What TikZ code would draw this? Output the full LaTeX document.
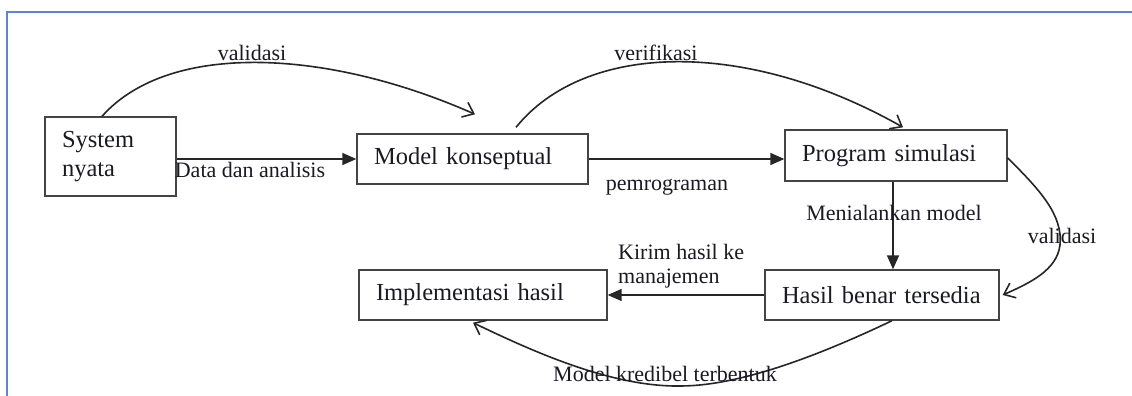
\documentclass[tikz,border=0pt]{standalone}
\usepackage{fontspec}
\setmainfont{Liberation Serif}
\usetikzlibrary{arrows.meta}
\definecolor{framec}{HTML}{5A86D6}
\definecolor{linec}{HTML}{262626}
\definecolor{boxc}{HTML}{444444}
\definecolor{txt}{HTML}{1A1A24}
\begin{document}
\begin{tikzpicture}[x=1pt,y=-1pt,
  box/.style={draw=boxc, line width=1.4pt, rectangle, inner xsep=17pt, inner ysep=0pt,
    align=left, font=\fontsize{24.5}{29}\selectfont, text=txt},
  lbl/.style={font=\fontsize{22}{24}\selectfont, text=txt, inner sep=0pt, anchor=base},
  arr/.style={draw=linec, line width=1.7pt, -{Triangle[length=14pt,width=12pt]}},
  carr/.style={draw=linec, line width=1.6pt, -{Straight Barb[length=10pt,width=16pt]}}]
\useasboundingbox (0,0) rectangle (1132,396);
\fill[white] (0,0) rectangle (1132,396);
% frame
\draw[framec, line width=1.8pt] (7,396) -- (7,12) -- (1132,12);
% boxes
\node[box, text width=97pt, minimum height=79pt] (sys) at (110.5,156.5) {System\\nyata};
\node[box, text width=197pt, minimum height=50pt] (mk) at (472.5,159) {Model konseptual};
\node[box, text width=188pt, minimum height=51pt] (ps) at (896,155.5) {Program simulasi};
\node[box, text width=214pt, minimum height=50pt] (ih) at (483,295) {Implementasi hasil};
\node[box, text width=200pt, minimum height=50pt] (hb) at (882,295) {Hasil benar tersedia};
% straight arrows
\draw[arr] (sys.east |- mk.west) -- (mk.west);
\draw[arr] (mk.east) -- (mk.east -| ps.west);
\draw[arr] ([xshift=-3pt]ps.south) -- ([xshift=-3pt]ps.south |- hb.north);
\draw[arr] (hb.west) -- (ih.east);
% curved arrows
\coordinate (v1s) at ([xshift=-8.5pt]sys.north);
\coordinate (v1e) at ([xshift=2.5pt,yshift=19pt]mk.north);
\draw[carr] (v1s) .. controls (170,40) and (330,50) .. (v1e);
\coordinate (v2s) at ([xshift=43.5pt,yshift=6pt]mk.north);
\coordinate (v2e) at ([xshift=7pt,yshift=2pt]ps.north);
\draw[carr] (v2s) .. controls (585,42) and (745,38) .. (v2e);
\coordinate (v3s) at ([yshift=-2.5pt]ps.east);
\coordinate (v3m) at (1060,245);
\coordinate (v3e) at ([xshift=3pt]hb.east);
\draw[carr] (v3s) .. controls (1040,190) and (1063,215) .. (v3m) .. controls (1057,270) and (1030,283) .. (v3e);
\coordinate (v4s) at ([xshift=10pt]hb.south);
\coordinate (v4m) at (680,386);
\coordinate (v4e) at ([xshift=-10pt,yshift=-2pt]ih.south);
\draw[carr] (v4s) .. controls (820,355) and (740,386) .. (v4m) .. controls (610,387) and (530,350) .. (v4e);
% labels
\node[lbl] (lv1) at (252,60) {validasi};
\node[lbl] (lv2) at (656,60) {verifikasi};
\node[lbl] (lda) at (250,177) {Data dan analisis};
\node[lbl] (lpe) at (667,190) {pemrograman};
\node[lbl] (lme) at (894,220) {Menialankan model};
\node[lbl] (lv3) at (1062,243) {validasi};
\node[lbl, anchor=base west] (lk1) at (618,259) {Kirim hasil ke};
\node[lbl, anchor=base west] (lk2) at (618,283) {manajemen};
\node[lbl] (lmk) at (665,381) {Model kredibel terbentuk};
\end{tikzpicture}
\end{document}
